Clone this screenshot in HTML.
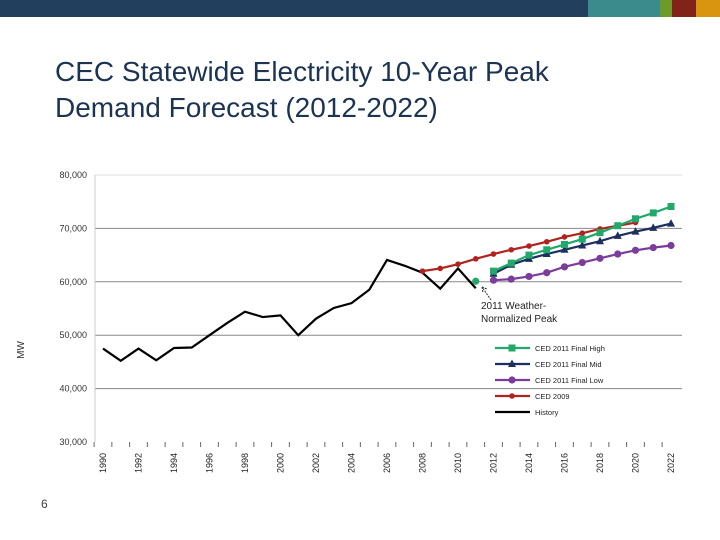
<!DOCTYPE html>
<html><head><meta charset="utf-8"><style>
body{margin:0;width:720px;height:540px;background:#fff;overflow:hidden;position:relative;font-family:"Liberation Sans",sans-serif}
.bar{position:absolute;top:0;height:17px}
#title{position:absolute;left:55px;top:54px;font-size:28px;line-height:36px;color:#1c3452}
#pg{position:absolute;left:41px;top:497px;font-size:12px;color:#444}
</style></head><body>
<div class="bar" style="left:0;width:588px;background:#22405e"></div>
<div class="bar" style="left:588px;width:72px;background:#3b8b8c"></div>
<div class="bar" style="left:660px;width:12px;background:#6f9a2a"></div>
<div class="bar" style="left:672px;width:24px;background:#82231a"></div>
<div class="bar" style="left:696px;width:24px;background:#d99510"></div>
<div id="title">CEC Statewide Electricity 10-Year Peak<br>Demand Forecast (2012-2022)</div>
<div id="pg">6</div>
<svg id="chart" width="720" height="540" style="position:absolute;left:0;top:0"></svg>
<script>
const yTicks=[30000,40000,50000,60000,70000,80000];
const yearLabels=[1990,1992,1994,1996,1998,2000,2002,2004,2006,2008,2010,2012,2014,2016,2018,2020,2022];
const histYears=[1990,1991,1992,1993,1994,1995,1996,1997,1998,1999,2000,2001,2002,2003,2004,2005,2006,2007,2008,2009,2010,2011];
const histVals=[47.5,45.2,47.5,45.3,47.6,47.7,50,52.3,54.4,53.4,53.7,50,53.1,55.1,56,58.5,64.1,63,61.7,58.7,62.5,58.8];
const ced09Years=[2008,2009,2010,2011,2012,2013,2014,2015,2016,2017,2018,2019,2020];
const ced09Vals=[62.0,62.5,63.3,64.3,65.2,66.0,66.7,67.5,68.4,69.1,69.9,70.5,71.1];
const fcYears=[2012,2013,2014,2015,2016,2017,2018,2019,2020,2021,2022];
const highVals=[62.0,63.5,65.0,66.0,67.0,68.0,69.2,70.5,71.8,72.9,74.1];
const midVals=[61.5,63.2,64.3,65.2,66.0,66.8,67.6,68.6,69.4,70.1,70.9];
const lowVals=[60.3,60.5,61.0,61.7,62.8,63.6,64.4,65.2,65.9,66.4,66.8];
const wnYear=2011, wnVal=60.1;
const NS="http://www.w3.org/2000/svg";
const svg=document.getElementById('chart');
const X=y=>103+(y-1990)*17.75;
const Y=v=>442-(v-30000)*267/50000;
const Yk=v=>Y(v*1000);
function mk(t,a,p){const e=document.createElementNS(NS,t);for(const k in a)e.setAttribute(k,a[k]);(p||svg).appendChild(e);return e;}
yTicks.forEach(t=>{
 if(t>30000){const l=mk('line',{x1:95,x2:682,y1:Y(t),y2:Y(t),stroke:t==80000?'#ddd':'#888','stroke-width':1});
 
 }
 const tx=mk('text',{x:87,y:Y(t)+3,'text-anchor':'end','font-size':9,fill:'#333'});tx.textContent=t.toLocaleString('en-US');
 
 
});
const ax=mk('line',{x1:95,x2:95,y1:Y(80000),y2:Y(30000),stroke:'#ccc'});


for(let yr=1990;yr<=2022;yr++){const tk=mk('line',{x1:X(yr)-8.9,x2:X(yr)-8.9,y1:442,y2:447,stroke:'#666'});
 
 }
yearLabels.forEach(yr=>{const t=mk('text',{x:0,y:0,transform:`translate(${X(yr)+3},473) rotate(-90)`,'font-size':9,fill:'#222'});t.textContent=yr;
 
 });
const mw=mk('text',{transform:'translate(24,350) rotate(-90)','text-anchor':'middle','font-size':10,fill:'#333'});mw.textContent='MW';


function series(name,ys,vs,col,mark){
 const g=mk('g',{});
 
 
 mk('polyline',{points:ys.map((y,i)=>X(y)+','+Yk(vs[i])).join(' '),fill:'none',stroke:col,'stroke-width':2.2},g);
 ys.forEach((y,i)=>{const x=X(y),v=Yk(vs[i]);drawMark(g,mark,x,v,col);});
}
function drawMark(g,mark,x,y,col){
 if(mark=='sq')mk('rect',{x:x-3.5,y:y-3.5,width:7,height:7,fill:col},g);
 else if(mark=='tri')mk('polygon',{points:`${x},${y-4.5} ${x-4},${y+3} ${x+4},${y+3}`,fill:col},g);
 else if(mark=='dot')mk('circle',{cx:x,cy:y,r:3.6,fill:col},g);
 else if(mark=='star')mk('circle',{cx:x,cy:y,r:2.8,fill:col},g);
}
series('series-history',histYears,histVals,'#000','');
series('series-ced-2009',ced09Years,ced09Vals,'#b02420','star');
series('series-low',fcYears,lowVals,'#7a3d9c','dot');
series('series-mid',fcYears,midVals,'#1d2f5c','tri');
series('series-high',fcYears,highVals,'#22a86a','sq');
const wn=mk('circle',{cx:X(wnYear),cy:Yk(wnVal),r:3.6,fill:'#22a86a'});


const ar=mk('path',{d:'M491,300 L482,287 M482,287 l1,6 M482,287 l5,2',stroke:'#333','stroke-dasharray':'2,1',fill:'none'});


[['2011 Weather-',309],['Normalized Peak',322]].forEach(([s,y])=>{const t=mk('text',{x:481,y:y,'font-size':10,fill:'#222'});t.textContent=s;
 
 });
const leg=[['CED 2011 Final High','#22a86a','sq'],['CED 2011 Final Mid','#1d2f5c','tri'],['CED 2011 Final Low','#7a3d9c','dot'],['CED 2009','#b02420','star'],['History','#000','']];
leg.forEach(([s,c,m],i)=>{const y=348+i*16;const g=mk('g',{});
 
 
 mk('line',{x1:495,x2:530,y1:y,y2:y,stroke:c,'stroke-width':2.2},g);drawMark(g,m,512,y,c);
 const t=mk('text',{x:535,y:y+3,'font-size':7.5,fill:'#222'},g);t.textContent=s;});
</script>
</body></html>
